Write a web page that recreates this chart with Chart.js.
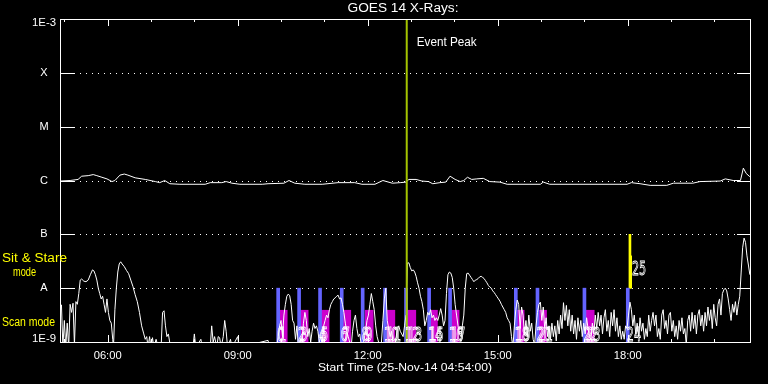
<!DOCTYPE html>
<html>
<head>
<meta charset="utf-8">
<title>GOES 14 X-Rays</title>
<script src="https://cdn.jsdelivr.net/npm/chart.js@4.4.0/dist/chart.umd.min.js"></script>
<style>
  html, body { margin: 0; padding: 0; background: #000; }
</style>
</head>
<body>
<canvas id="goes" width="768" height="384"></canvas>
<script>
// time axis in decimal hours UT, the plot starts at 04:54
const tStart = 4.9
const tEnd = 20.82
const hourTicks = [5, 6, 7, 8, 9, 10, 11, 12, 13, 14, 15, 16, 17, 18, 19, 20]
const majorHours = [6, 9, 12, 15, 18]
const levelExp = [-9, -8, -7, -6, -5, -4, -3]
const levelLabels = ['1E-9', 'A', 'B', 'C', 'M', 'X', '1E-3']

// GOES long channel, [minutes after 04:54, log10 flux]
const longFlux = [
    [0, -6.01], [14, -6.0], [25, -5.98], [30, -5.92], [39, -5.91], [46, -5.89], [51, -5.91],
    [58, -5.94], [65, -5.97], [72, -6.02], [76, -6.0], [83, -5.9], [89, -5.88], [94, -5.9],
    [104, -5.95], [118, -5.98], [132, -6.02], [138, -6.04], [145, -6.0], [152, -6.06],
    [166, -6.07], [201, -6.07], [208, -6.04], [224, -6.04], [230, -6.02], [238, -6.05],
    [249, -6.07], [280, -6.07], [288, -6.06], [310, -6.05], [317, -6.0], [325, -6.05],
    [339, -6.07], [363, -6.07], [385, -6.04], [408, -6.04], [418, -6.07], [436, -6.07],
    [447, -6.0], [460, -6.05], [471, -6.04], [479, -6.03], [483, -5.98], [493, -5.98],
    [501, -6.01], [510, -6.02], [516, -6.06], [526, -6.04], [534, -6.03], [540, -5.92],
    [547, -5.98], [554, -6.02], [559, -6.0], [564, -5.94], [570, -5.98], [577, -5.97],
    [586, -5.96], [595, -6.02], [609, -6.03], [619, -6.07], [665, -6.07], [669, -6.03],
    [678, -6.07], [785, -6.07], [791, -6.04], [803, -6.06], [817, -6.09], [840, -6.09],
    [849, -6.05], [876, -6.05], [886, -6.02], [914, -6.01], [921, -5.97], [932, -6.0],
    [942, -6.0], [946, -5.77], [950, -5.87], [955, -5.93]
]

// GOES short channel, [minutes after 04:54, log10 flux]
const shortFlux = [
    [0, -8.4], [2, -8.31], [4, -9.1], [6, -8.6], [8, -9.1], [10, -8.65], [12, -9.1], [14, -8.3],
    [16, -8.45], [18, -8.28], [20, -9.05], [22, -8.25], [24, -8.3], [26, -8.1], [28, -7.85],
    [30, -7.83], [33, -7.87], [36, -7.88], [39, -7.85], [42, -7.75], [45, -7.66], [47, -7.68],
    [49, -7.75], [51, -7.85], [53, -8.0], [55, -8.1], [57, -8.2], [59, -8.15], [61, -8.3],
    [63, -8.45], [65, -8.2], [67, -8.45], [69, -8.6], [71, -8.65], [73, -8.95], [74, -9.1],
    [76, -8.4], [78, -8.0], [80, -7.7], [82, -7.55], [84, -7.51], [86, -7.55], [89, -7.6],
    [92, -7.67], [95, -7.73], [98, -7.85], [101, -7.97], [104, -8.12], [107, -8.25],
    [110, -8.45], [113, -8.7], [116, -8.85], [118, -8.95], [120, -8.9], [122, -9.1],
    [124, -8.9], [126, -9.1], [128, -8.92], [130, -9.1], [133, -8.95], [136, -9.1],
    [140, -9.1], [142, -8.45], [144, -8.42], [146, -8.7], [148, -8.9], [150, -8.85],
    [153, -9.1], [184, -9.1], [186, -8.85], [188, -9.1], [195, -8.95], [197, -9.1],
    [208, -9.1], [210, -8.7], [212, -9.0], [214, -8.9], [217, -9.1], [219, -8.9], [221, -8.92],
    [223, -9.1], [226, -8.9], [228, -8.6], [230, -8.8], [232, -9.1], [236, -8.95], [238, -9.1],
    [246, -8.9], [248, -9.1], [288, -8.97], [290, -9.1], [300, -9.1], [302, -8.9], [304, -8.7],
    [306, -8.6], [308, -8.9], [310, -8.5], [312, -8.3], [314, -8.15], [316, -8.11],
    [318, -8.14], [320, -8.3], [322, -8.6], [324, -8.65], [326, -8.95], [328, -8.7],
    [330, -9.1], [333, -8.95], [335, -9.1], [337, -8.65], [339, -8.45], [341, -8.6],
    [343, -8.9], [345, -8.75], [347, -9.0], [349, -8.8], [351, -8.65], [353, -8.75],
    [355, -8.7], [357, -8.8], [359, -9.0], [361, -8.9], [363, -9.05], [365, -8.7], [367, -8.6],
    [369, -8.5], [371, -8.55], [373, -8.4], [375, -8.3], [377, -8.25], [379, -8.2],
    [381, -8.18], [383, -8.15], [385, -8.13], [387, -8.2], [389, -8.18], [391, -8.3],
    [393, -8.45], [395, -8.65], [397, -8.8], [399, -8.9], [401, -9.0], [403, -9.1],
    [405, -8.8], [407, -8.6], [409, -8.5], [411, -8.75], [413, -8.9], [415, -8.85],
    [417, -9.05], [419, -9.1], [421, -8.95], [423, -8.8], [425, -8.6], [427, -8.5], [429, -8.3],
    [431, -8.1], [433, -8.25], [435, -8.4], [437, -8.7], [439, -8.9], [441, -9.0], [443, -9.1],
    [445, -9.0], [447, -8.6], [449, -8.2], [451, -8.0], [453, -8.6], [455, -8.75], [457, -8.9],
    [459, -8.8], [461, -9.0], [463, -9.1], [465, -8.95], [467, -8.75], [469, -8.7], [471, -8.8],
    [473, -8.85], [475, -8.9], [477, -8.7], [479, -8.5], [480, -8.0], [481, -7.53],
    [483, -7.53], [485, -7.62], [487, -7.68], [489, -7.66], [491, -7.7], [493, -7.78],
    [495, -7.9], [497, -8.0], [499, -8.15], [501, -8.25], [503, -8.4], [505, -8.7], [507, -8.6],
    [509, -8.45], [511, -8.5], [513, -8.4], [515, -8.55], [517, -8.5], [519, -8.6],
    [521, -8.55], [523, -8.6], [525, -8.5], [527, -8.38], [529, -8.5], [531, -8.7], [533, -8.6],
    [535, -8.1], [537, -7.75], [539, -7.7], [541, -7.72], [543, -7.8], [545, -8.0], [547, -8.3],
    [549, -8.5], [551, -8.7], [553, -8.85], [555, -8.9], [557, -8.7], [559, -8.5], [561, -8.0],
    [563, -7.73], [565, -7.72], [567, -7.76], [569, -7.8], [571, -7.84], [573, -7.88],
    [575, -7.85], [577, -7.84], [579, -7.82], [581, -7.79], [583, -7.78], [585, -7.8],
    [587, -7.82], [589, -7.86], [591, -7.9], [593, -7.95], [595, -7.98], [597, -8.0],
    [599, -8.05], [601, -8.08], [603, -8.12], [605, -8.16], [607, -8.2], [609, -8.24],
    [611, -8.3], [613, -8.35], [615, -8.4], [617, -8.45], [619, -8.55], [621, -8.6],
    [623, -8.65], [625, -8.9], [627, -9.1], [629, -8.7], [631, -8.4], [633, -8.22],
    [635, -8.3], [637, -8.75], [639, -8.35], [641, -8.5], [643, -8.85], [645, -8.6],
    [647, -8.9], [649, -8.5], [651, -8.8], [653, -8.65], [655, -8.95], [657, -9.05],
    [659, -8.7], [661, -8.45], [663, -8.3], [665, -8.26], [667, -8.6], [669, -8.35],
    [671, -8.75], [673, -8.55], [675, -8.9], [677, -8.7], [679, -8.95], [681, -8.65],
    [683, -8.9], [685, -8.7], [687, -8.98], [689, -8.6], [691, -8.85], [693, -8.5],
    [695, -8.75], [697, -8.27], [699, -8.6], [701, -8.32], [703, -8.7], [705, -8.4],
    [707, -8.8], [709, -8.5], [711, -8.85], [713, -8.6], [715, -8.95], [717, -8.55],
    [719, -8.8], [721, -8.6], [723, -8.9], [725, -8.65], [727, -8.85], [729, -8.55],
    [731, -8.75], [733, -8.9], [735, -8.95], [737, -8.65], [739, -8.85], [741, -8.5],
    [743, -8.75], [745, -8.45], [747, -8.7], [749, -8.5], [751, -8.85], [753, -8.55],
    [755, -8.4], [757, -8.8], [759, -8.6], [761, -8.9], [763, -8.45], [765, -8.7], [767, -8.4],
    [769, -8.8], [771, -8.55], [773, -8.9], [775, -8.7], [777, -8.95], [779, -8.8],
    [781, -8.95], [783, -8.7], [785, -8.75], [787, -8.5], [789, -8.26], [791, -8.4],
    [793, -8.7], [795, -8.5], [797, -8.85], [799, -8.65], [801, -8.9], [803, -8.55],
    [805, -8.8], [807, -8.65], [809, -8.95], [811, -8.75], [813, -8.9], [815, -8.5],
    [817, -8.8], [819, -8.6], [821, -8.45], [823, -8.7], [825, -8.5], [827, -8.9],
    [829, -8.75], [831, -8.95], [833, -8.5], [835, -8.4], [837, -8.75], [839, -8.6],
    [841, -8.85], [843, -8.5], [845, -8.45], [847, -8.8], [849, -8.6], [851, -8.9],
    [853, -8.7], [855, -8.95], [857, -8.6], [859, -8.8], [861, -8.55], [863, -8.85],
    [865, -8.75], [867, -9.05], [869, -8.6], [871, -8.5], [873, -8.8], [875, -8.45],
    [877, -8.75], [879, -8.5], [881, -8.85], [883, -8.5], [885, -8.4], [887, -8.7],
    [889, -8.5], [891, -8.8], [893, -8.45], [895, -8.7], [897, -8.35], [899, -8.6],
    [901, -8.4], [903, -8.75], [905, -8.3], [907, -8.55], [909, -8.7], [911, -8.3],
    [913, -8.2], [915, -8.5], [917, -8.1], [919, -8.03], [921, -8.0], [923, -8.05],
    [925, -8.2], [927, -8.4], [929, -8.6], [931, -8.3], [933, -8.45], [935, -8.25],
    [937, -8.5], [939, -8.3], [941, -8.15], [943, -7.7], [945, -7.25], [947, -7.07],
    [949, -7.15], [951, -7.4], [953, -7.57], [955, -7.75]
]

// IRIS observations: scan mode (blue + magenta) and sit & stare (yellow)
const scanTimes = ['09:56', '10:25', '10:54', '11:24', '11:53', '12:24', '12:53', '13:25', '13:54', '15:25', '15:55', '17:00', '18:00']
const scanIds = ['0', '2', '4', '6', '8', '10', '12', '14', '16', '18', '20', '22', '24']
const rasterTimes = ['10:03', '10:32', '11:01', '11:31', '12:02', '12:32', '13:01', '13:31', '14:01', '15:31', '16:02', '17:08']
const rasterIds = ['1', '3', '5', '7', '9', '11', '13', '15', '17', '19', '21', '23']
const stareTimes = ['18:03', '18:04']
const stareTops = [-7, -7.4]
const stareId = '25'
const eventPeak = '12:54'

const FONT = '"Liberation Sans", Arial, sans-serif'

const hm = s => {
    const [h, m] = s.split(':').map(Number)
    return h + m / 60
}
const toPoints = rows => rows.map(([m, v]) => ({ x: tStart + m / 60, y: v }))

// text squeezed to a given width when asked
function text(ctx, str, x, y, size, color, align, width) {
    ctx.save()
    ctx.font = size + 'px ' + FONT
    ctx.fillStyle = color
    ctx.textAlign = align
    ctx.textBaseline = 'middle'
    ctx.translate(x, y)
    if (width) ctx.scale(width / ctx.measureText(str).width, 1)
    ctx.fillText(str, 0, 0)
    ctx.restore()
}

// hollow digits used for the observation numbers
function obsNumber(ctx, str, x, base) {
    ctx.save()
    ctx.font = '20px "DejaVu Sans", sans-serif'
    ctx.strokeStyle = '#fff'
    ctx.lineWidth = 1
    ctx.textAlign = 'left'
    ctx.textBaseline = 'alphabetic'
    ctx.translate(x, base)
    ctx.scale(0.56, 1)
    ctx.strokeText(str, 0, 0)
    ctx.restore()
}

const goesFrame = {
    id: 'goesFrame',
    beforeDatasetsDraw(chart) {
        const { ctx, chartArea: a, scales: { y } } = chart
        ctx.save()
        ctx.strokeStyle = '#fff'
        ctx.lineWidth = 1
        ctx.setLineDash([1, 5])
        levelExp.slice(1, -1).forEach(v => {
            const py = Math.round(y.getPixelForValue(v)) + 0.5
            ctx.beginPath()
            ctx.moveTo(a.left + 2, py)
            ctx.lineTo(a.right, py)
            ctx.stroke()
        })
        ctx.restore()
    },
    afterDatasetsDraw(chart) {
        const { ctx, chartArea: a, scales: { x, y } } = chart
        ctx.save()
        ctx.strokeStyle = '#fff'
        ctx.lineWidth = 1
        ctx.strokeRect(a.left + 0.5, a.top + 0.5, a.right - a.left, a.bottom - a.top)

        // level ticks, both sides
        levelExp.forEach(v => {
            const py = Math.round(y.getPixelForValue(v)) + 0.5
            ctx.beginPath()
            ctx.moveTo(a.left, py); ctx.lineTo(a.left + 14, py)
            ctx.moveTo(a.right - 13, py); ctx.lineTo(a.right, py)
            ctx.stroke()
        })
        // hour ticks, top and bottom
        hourTicks.forEach(h => {
            const px = Math.round(x.getPixelForValue(h)) + 0.5
            const len = majorHours.includes(h) ? 7 : 3
            ctx.beginPath()
            ctx.moveTo(px, a.top); ctx.lineTo(px, a.top + len)
            ctx.moveTo(px, a.bottom); ctx.lineTo(px, a.bottom - len)
            ctx.stroke()
        })
        ctx.restore()

        // observation numbers
        const base = a.bottom - 1
        scanTimes.forEach((t, i) => obsNumber(ctx, scanIds[i], x.getPixelForValue(hm(t)) - 1, base))
        rasterTimes.forEach((t, i) => obsNumber(ctx, rasterIds[i], x.getPixelForValue(hm(t)) - 4, base))
        obsNumber(ctx, stareId, x.getPixelForValue(hm(stareTimes[0])) + 2, y.getPixelForValue(-7.75))

        text(ctx, 'Event Peak', x.getPixelForValue(hm(eventPeak)) + 10, 43, 12, '#fff', 'left', 60)

        // axis labels
        const mid = (a.left + a.right) / 2
        text(ctx, 'GOES 14 X-Rays:', mid - 2, 9, 12.5, '#fff', 'center', 111)
        levelExp.forEach((v, i) => {
            let py = y.getPixelForValue(v)
            if (i === 0) py -= 3
            if (i === levelExp.length - 1) py += 4
            const w = levelLabels[i].length > 1 ? 24 : 0
            text(ctx, levelLabels[i], 44, py, 11, '#fff', 'center', w)
        })
        majorHours.forEach(h => {
            const lbl = String(h).padStart(2, '0') + ':00'
            text(ctx, lbl, x.getPixelForValue(h), 356, 11, '#fff', 'center', 28)
        })
        text(ctx, 'Start Time (25-Nov-14 04:54:00)', mid, 368, 11.5, '#fff', 'center', 174)

        text(ctx, 'Sit & Stare', 2, 258.5, 12.5, '#ffff00', 'left', 65)
        text(ctx, 'mode', 13, 272.5, 12.5, '#ffff00', 'left', 23)
        text(ctx, 'Scan mode', 2, 322.5, 12.5, '#ffff00', 'left', 53)
    }
}

const peakX = hm(eventPeak)

new Chart(document.getElementById('goes'), {
    type: 'line',
    data: {
        datasets: [
            {
                label: 'Event Peak',
                data: [{ x: peakX, y: -3 }, { x: peakX, y: -9 }],
                borderColor: '#a4c400',
                borderWidth: 2,
                pointRadius: 0
            },
            {
                label: 'GOES long',
                data: toPoints(longFlux),
                borderColor: '#fff',
                borderWidth: 1,
                pointRadius: 0,
                tension: 0
            },
            {
                label: 'GOES short',
                data: toPoints(shortFlux),
                borderColor: '#fff',
                borderWidth: 1,
                pointRadius: 0,
                tension: 0
            },
            {
                type: 'bar',
                label: 'Scan',
                data: scanTimes.map(t => ({ x: hm(t), y: [-9, -8] })),
                backgroundColor: '#6464ff',
                barThickness: 3,
                grouped: false
            },
            {
                type: 'bar',
                label: 'Raster',
                data: rasterTimes.map(t => ({ x: hm(t), y: [-9, -8.41] })),
                backgroundColor: '#cc00cc',
                barThickness: 8,
                grouped: false
            },
            {
                type: 'bar',
                label: 'Sit & Stare',
                data: stareTimes.map((t, i) => ({ x: hm(t), y: [-8, stareTops[i]] })),
                backgroundColor: '#ffff00',
                barThickness: 2,
                grouped: false
            }
        ]
    },
    options: {
        responsive: false,
        animation: false,
        events: [],
        layout: { padding: { left: 60, right: 18, top: 19, bottom: 42 } },
        scales: {
            x: { type: 'linear', min: tStart, max: tEnd, display: false, offset: false, grid: { offset: false } },
            y: { type: 'linear', min: -9, max: -3, display: false }
        },
        plugins: {
            legend: { display: false },
            tooltip: { enabled: false }
        }
    },
    plugins: [goesFrame]
})
</script>
</body>
</html>
